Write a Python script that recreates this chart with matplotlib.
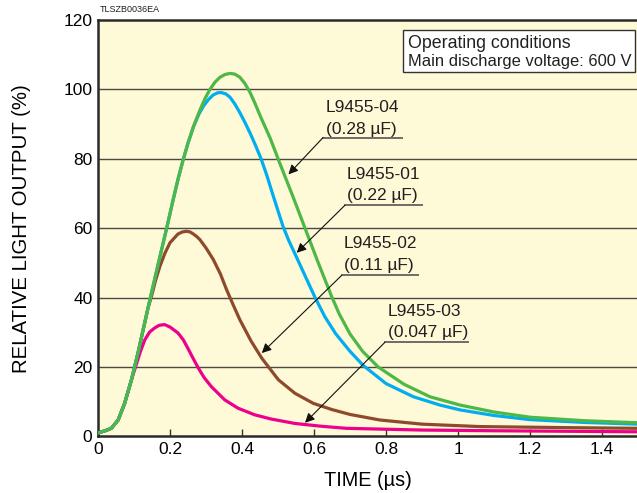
import matplotlib
matplotlib.use("Agg")
import matplotlib.pyplot as plt
from matplotlib.patches import Rectangle

plt.rcParams['font.family'] = ['Liberation Sans', 'DejaVu Sans']

# ---- data (time in µs, relative output in %) ----
t_04 = [0, 0.02, 0.037, 0.056, 0.074, 0.093, 0.111, 0.125, 0.139, 0.149, 0.168, 0.191, 0.209,
        0.223, 0.237, 0.25, 0.265, 0.283, 0.297, 0.311, 0.325, 0.339, 0.353, 0.367, 0.38, 0.394,
        0.408, 0.422, 0.436, 0.45, 0.478, 0.502, 0.54, 0.575, 0.61, 0.649, 0.67, 0.7, 0.735, 0.778,
        0.85, 0.922, 1.006, 1.1, 1.2, 1.35, 1.5]
v_04 = [1.0, 1.6, 2.3, 4.7, 9.5, 16.3, 24, 30.5, 37, 41.5, 50, 60.1, 68.3,
        74.4, 79.9, 84.5, 89.2, 94.0, 97.3, 100, 102.1, 103.5, 104.3, 104.6, 104.4, 103.5,
        101.7, 99.2, 96.0, 92.5, 86, 79.5, 69.5, 60, 50.5, 40.3, 35.3, 29.5, 24.5, 20,
        15, 11.4, 9, 7, 5.5, 4.5, 3.9]

t_01 = [0, 0.02, 0.037, 0.056, 0.074, 0.093, 0.111, 0.125, 0.139, 0.149, 0.168, 0.191, 0.209,
        0.223, 0.237, 0.25, 0.265, 0.28, 0.293, 0.307, 0.32, 0.332, 0.342, 0.355, 0.367, 0.38,
        0.394, 0.408, 0.422, 0.437, 0.453, 0.469, 0.484, 0.5, 0.514, 0.53, 0.552, 0.603, 0.63,
        0.66, 0.7, 0.737, 0.8, 0.876, 0.95, 1.006, 1.1, 1.2, 1.35, 1.5]
v_01 = [1.0, 1.6, 2.3, 4.7, 9.5, 16.3, 24, 30.5, 37, 41.5, 50, 60.1, 68.3,
        74.4, 79.9, 84.5, 89.2, 92.8, 95.2, 97.1, 98.4, 99.0, 99.1, 98.7, 97.7, 95.8,
        93.3, 90.5, 87.5, 84.0, 80, 75.2, 70.2, 65, 60.5, 56.4, 51.5, 40, 34.5,
        29.6, 24.5, 20.4, 15.2, 11.4, 9, 7.6, 6, 4.8, 4.0, 3.5]

t_02 = [0, 0.02, 0.037, 0.056, 0.074, 0.093, 0.111, 0.125, 0.139, 0.149, 0.16, 0.172, 0.186,
        0.2, 0.222, 0.234, 0.246, 0.256, 0.265, 0.274, 0.283, 0.3, 0.32, 0.34, 0.357, 0.375,
        0.394, 0.425, 0.455, 0.501, 0.547, 0.598, 0.65, 0.7, 0.783, 0.9, 1.061, 1.3, 1.5]
v_02 = [1.0, 1.6, 2.3, 4.7, 9.5, 16.3, 24, 30.5, 37, 40.5, 45, 49, 52.8,
        55.8, 58.3, 58.9, 59.1, 58.9, 58.3, 57.6, 56.7, 54.3, 51, 46.8, 42.3, 38,
        33.6, 27.5, 22.5, 16.3, 12.4, 9.5, 7.7, 6.3, 4.7, 3.5, 2.8, 2.5, 2.3]

t_03 = [0, 0.02, 0.037, 0.056, 0.074, 0.093, 0.106, 0.118, 0.13, 0.143, 0.157, 0.17, 0.185,
        0.2, 0.222, 0.237, 0.25, 0.265, 0.278, 0.295, 0.315, 0.352, 0.389, 0.435, 0.48,
        0.547, 0.62, 0.69, 0.9, 1.1, 1.5]
v_03 = [1.0, 1.6, 2.3, 4.7, 9.5, 16.3, 20.6, 24.5, 27.8, 30, 31.2, 32, 32.2,
        31.5, 29.8, 27.8, 25.3, 22.3, 19.8, 16.9, 14.3, 10.5, 8.1, 6.2, 5,
        3.7, 2.9, 2.3, 1.8, 1.6, 1.3]

names = ["L9455-04", "L9455-01", "L9455-02", "L9455-03"]
caps = ["(0.28 µF)", "(0.22 µF)", "(0.11 µF)", "(0.047 µF)"]
x_ticks = [0, 0.2, 0.4, 0.6, 0.8, 1, 1.2, 1.4]
x_tick_labels = ["0", "0.2", "0.4", "0.6", "0.8", "1", "1.2", "1.4"]
y_ticks = [0, 20, 40, 60, 80, 100, 120]

colors = ["#4DB748", "#00AEEF", "#8E4A2C", "#EC008C"]

fig = plt.figure(figsize=(6.37, 4.93), dpi=100)
ax = fig.add_axes([98 / 637, 1 - 436.3 / 493, 540 / 637, (436.3 - 20) / 493])
ax.set_facecolor("#FEF9D6")

for yv in [20, 40, 60, 80, 100]:
    ax.axhline(yv, color="#4a4a44", lw=1.0, zorder=1)

# draw order: pink, brown, blue, green on top
series = [(t_03, v_03, colors[3]), (t_02, v_02, colors[2]), (t_01, v_01, colors[1]), (t_04, v_04, colors[0])]
for t, v, c in series:
    ax.plot(t, v, color=c, lw=2.3, solid_capstyle="round", solid_joinstyle="round", zorder=3)

ax.set_xlim(0, 1.5)
ax.set_ylim(0, 120)
ax.set_xticks(x_ticks)
ax.set_xticklabels(x_tick_labels)
ax.set_yticks(y_ticks)
ax.tick_params(axis="x", direction="in", length=5, width=1, color="#333333", labelsize=12.5, pad=4)
ax.tick_params(axis="y", length=0, labelsize=12.5, pad=4)
for s in ["left", "bottom", "top"]:
    ax.spines[s].set_linewidth(1.8)
    ax.spines[s].set_color("#2a2a2a")
ax.spines["right"].set_visible(False)

ax.set_xlabel("TIME (µs)", fontsize=14.3, labelpad=10)
ax.set_ylabel("RELATIVE LIGHT OUTPUT (%)", fontsize=14.7, labelpad=23)

# annotations: (text left, line1 y, line2 y, underline x0, x1, y, arrow target)
ann = [
    (0.633, 94.9, 88.5, 0.625, 0.844, 86.1, (0.529, 75.5)),
    (0.691, 75.5, 69.5, 0.686, 0.899, 66.6, (0.552, 52.9)),
    (0.683, 55.5, 49.2, 0.677, 0.890, 46.4, (0.455, 24.0)),
    (0.805, 36.0, 29.8, 0.797, 1.029, 27.1, (0.575, 3.9)),
]
for (tx, y1, y2, ux0, ux1, uy, tgt), nm, cp in zip(ann, names, caps):
    ax.text(tx, y1, nm, fontsize=12.5, ha="left", va="center", color="#231f20", zorder=5)
    ax.text(tx, y2, cp, fontsize=12.5, ha="left", va="center", color="#231f20", zorder=5)
    ax.plot([ux0, ux1], [uy, uy], color="#6d6d68", lw=1.4, zorder=4)
    ax.annotate("", xy=tgt, xytext=(ux0, uy),
                arrowprops=dict(arrowstyle="-|>", color="#111111", lw=0.8,
                                mutation_scale=14, shrinkA=0, shrinkB=0),
                zorder=6)

# operating conditions box
fig.patches.append(Rectangle((403 / 637, 1 - 72 / 493), (635 - 403) / 637, 42 / 493,
                             transform=fig.transFigure, facecolor="white",
                             edgecolor="#333333", lw=1.0, zorder=10))
fig.text(408 / 637, 1 - 44 / 493, "Operating conditions", fontsize=12.8, ha="left", va="center",
         color="#231f20", zorder=11)
fig.text(408 / 637, 1 - 61.7 / 493, "Main discharge voltage: 600 V", fontsize=11.9, ha="left",
         va="center", color="#231f20", zorder=11)

fig.text(100 / 637, 1 - 10 / 493, "TLSZB0036EA", fontsize=6.5, ha="left", va="center", color="#231f20")

fig.savefig("out.png", dpi=100)
